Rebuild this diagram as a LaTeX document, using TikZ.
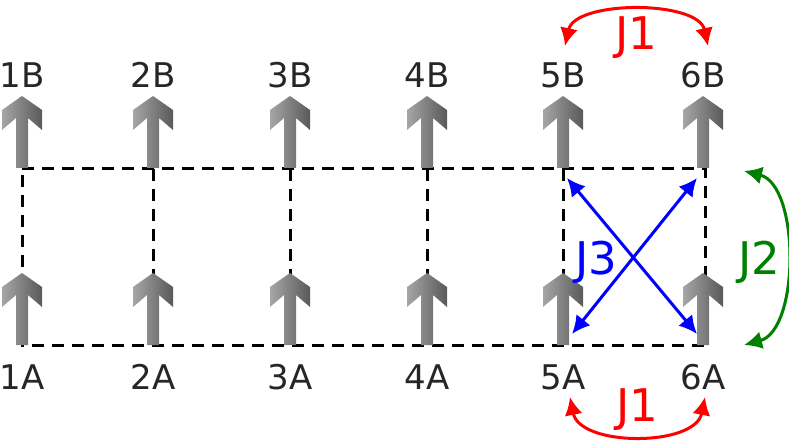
\documentclass[tikz,border=0pt]{standalone}
\usepackage{fontspec}
\setmainfont{DejaVu Sans}
\usetikzlibrary{arrows.meta}
\begin{document}
\begin{tikzpicture}[x=1pt,y=-1pt,
  spin/.pic={\shade[left color=black!35,right color=black!65]
     (-6,0) -- (-6,-50) -- (-20,-38) -- (-20,-58) -- (0,-72) -- (20,-58) -- (20,-38) -- (6,-50) -- (6,0) -- cycle;},
  lab/.style={font=\fontsize{34}{34}\selectfont, text=black!85},
  jlab/.style={font=\fontsize{45}{45}\selectfont},
  dashline/.style={dash pattern=on 12pt off 8pt, line width=3pt},
  jarr/.style={<->, >={Latex[length=18pt,width=18pt]}, line width=3pt}]
\useasboundingbox (0,0) rectangle (789,443);
\foreach \i/\x in {1/22,2/153,3/290,4/427,5/563,6/705}{
  \coordinate (t\i) at (\x,169);
  \coordinate (b\i) at (\x,345);
}
\draw[dashline] (t1) -- (t6) -- (b6) -- (b1) -- cycle;
\foreach \i in {2,...,5}{\draw[dashline] (t\i) -- (b\i);}
\foreach \i/\x in {1/22,2/153,3/290,4/427,5/563,6/703}{
  \pic at (\x,168) {spin};
  \pic at (\x,345) {spin};
  \node[lab] (lb\i) at (\x,75) {\i B};
  \node[lab] (la\i) at (\x,377) {\i A};
}
\coordinate (x1) at (567,178); \coordinate (x2) at (697,334);
\coordinate (x3) at (572,334); \coordinate (x4) at (697,178);
\draw[jarr, blue] (x1) -- (x2);
\draw[jarr, blue] (x3) -- (x4);
\node[jlab, blue] (j3) at (596,262) {J3};
\coordinate (r1) at (565,46); \coordinate (r2) at (708,46);
\draw[jarr, red] (r1) .. controls (575,0) and (698,0) .. (r2);
\node[jlab, red] (j1t) at (636,38) {J1};
\coordinate (r3) at (570,397); \coordinate (r4) at (705,397);
\draw[jarr, red] (r3) .. controls (580,447) and (695,447) .. (r4);
\node[jlab, red] (j1b) at (637,410) {J1};
\coordinate (g1) at (744,171); \coordinate (g2) at (744,345);
\draw[jarr, green!50!black] (g1) .. controls (800,185) and (800,330) .. (g2);
\node[jlab, green!50!black] (j2) at (759,262) {J2};
\end{tikzpicture}
\end{document}
